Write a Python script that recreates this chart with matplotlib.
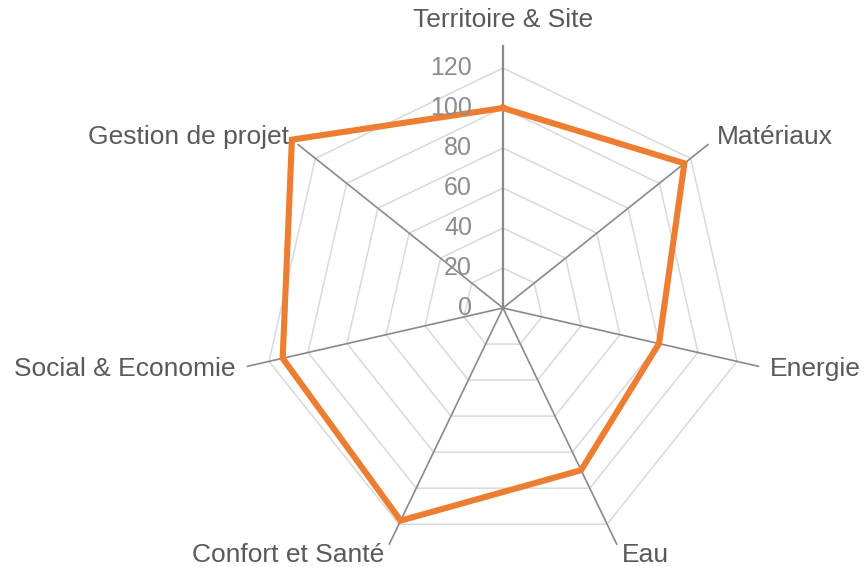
import numpy as np
import matplotlib.pyplot as plt

plt.rcParams['font.family'] = ['Liberation Sans', 'DejaVu Sans']

categories = ['Territoire & Site', 'Matériaux', 'Energie', 'Eau',
              'Confort et Santé', 'Social & Economie', 'Gestion de projet']
scores = [100, 116, 80, 90, 118, 113, 135]
rings = [0, 20, 40, 60, 80, 100, 120]
spoke_len = 131
label_r = 137

n = len(categories)
theta = np.arange(n) * 2 * np.pi / n
ux, uy = np.sin(theta), np.cos(theta)


def closed(r):
    r = np.asarray(r, dtype=float)
    x, y = r * ux, r * uy
    return np.append(x, x[0]), np.append(y, y[0])


fig = plt.figure(figsize=(8.64, 5.67), dpi=100)
ax = fig.add_axes([0, 0, 1, 1])
ax.set_xlim(-251.5, 180.5)
ax.set_ylim(-129.5, 154)
ax.axis('off')

# polygon gridlines
for v in rings[1:]:
    gx, gy = closed([v] * n)
    ax.plot(gx, gy, color='#d9d9d9', lw=1.1, zorder=1)

# spokes
for i in range(n):
    lw = 1.6 if i == 0 else 1.2
    ax.plot([0, spoke_len * ux[i]], [0, spoke_len * uy[i]],
            color='#898989', lw=lw, zorder=2)

# data series
sx, sy = closed(scores)
ax.plot(sx, sy, color='#ED7D31', lw=4.4, solid_joinstyle='miter', zorder=3)

# radial value labels
for v in rings:
    ax.text(-15.5, v, str(v), ha='right', va='center', fontsize=18,
            color='#8c8c8c', zorder=4)

# category labels
for i, name in enumerate(categories):
    if abs(ux[i]) < 1e-6:
        x, y, ha = 0, 144, 'center'
    else:
        x, y = label_r * ux[i], label_r * uy[i]
        ha = 'left' if ux[i] > 0 else 'right'
    ax.text(x, y, name, ha=ha, va='center', fontsize=19, color='#595959')

fig.savefig('out.png', dpi=100)
